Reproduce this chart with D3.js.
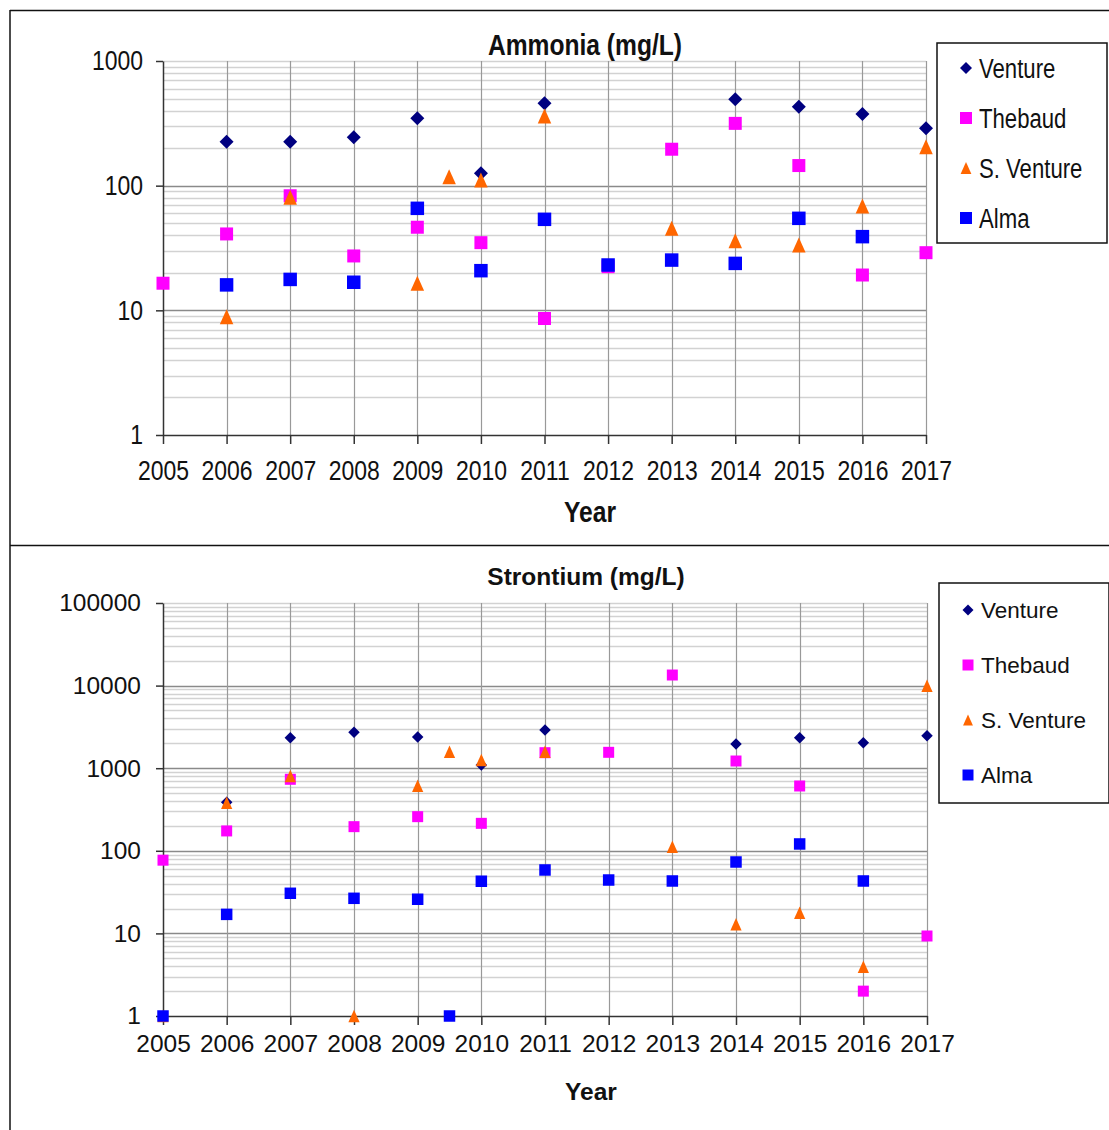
<!DOCTYPE html>
<html>
<head>
<meta charset="utf-8">
<script src="https://cdn.jsdelivr.net/npm/d3@7"></script>
<style>
  body { margin: 0; background: #fff; }
</style>
</head>
<body>
<div id="figure"></div>
<script>
const years = [2005, 2006, 2007, 2008, 2009, 2010, 2011, 2012, 2013, 2014, 2015, 2016, 2017];
const seriesNames = ["Venture", "Thebaud", "S. Venture", "Alma"];
const seriesColors = ["#000080", "#FF00FF", "#FF6600", "#0000FF"];
const seriesShapes = ["diamond", "square", "triangle", "square"];

// Ammonia (mg/L)  [year, value]
const ammoniaTicks = [1, 10, 100, 1000];
const ammoniaVenture = [[2006, 225], [2007, 225], [2008, 244], [2009, 347], [2010, 126], [2011, 458],
                        [2014, 493], [2015, 430], [2016, 376], [2017, 289]];
const ammoniaThebaud = [[2005, 16.5], [2006, 41], [2007, 83], [2008, 27.3], [2009, 46.4], [2010, 34.9],
                        [2011, 8.6], [2012, 22.4], [2013, 196], [2014, 316], [2015, 145], [2016, 19.2], [2017, 29]];
const ammoniaSVenture = [[2006, 8.9], [2007, 80.6], [2009, 16.5], [2009.5, 118], [2010, 111], [2011, 362],
                         [2013, 45.5], [2014, 36.2], [2015, 33.4], [2016, 68.7], [2017, 205]];
const ammoniaAlma = [[2006, 16], [2007, 17.7], [2008, 16.8], [2009, 65.8], [2010, 20.8], [2011, 53.7],
                     [2012, 23.1], [2013, 25.3], [2014, 23.8], [2015, 54.7], [2016, 39]];

// Strontium (mg/L)
const strontiumTicks = [1, 10, 100, 1000, 10000, 100000];
const strontiumVenture = [[2006, 387], [2007, 2340], [2008, 2720], [2009, 2390], [2010, 1093], [2011, 2900],
                          [2014, 1963], [2015, 2340], [2016, 2035], [2017, 2473]];
const strontiumThebaud = [[2005, 77], [2006, 174], [2007, 734], [2008, 196], [2009, 259], [2010, 215],
                          [2011, 1541], [2012, 1557], [2013, 13430], [2014, 1222], [2015, 609], [2016, 2], [2017, 9.3]];
const strontiumSVenture = [[2005, 1], [2006, 383], [2007, 805], [2008, 1], [2009, 614], [2009.5, 1585], [2010, 1257],
                           [2011, 1585], [2013, 112], [2014, 12.9], [2015, 17.8], [2016, 3.95], [2017, 9970]];
const strontiumAlma = [[2005, 1], [2006, 17], [2007, 30.6], [2008, 26.6], [2009, 25.9], [2009.5, 1], [2010, 42.8],
                       [2011, 58.6], [2012, 44.3], [2013, 43.1], [2014, 73.2], [2015, 121], [2016, 43.1]];

const W = 1109, H = 1130;
const font = '"Liberation Sans", Arial, sans-serif';

const svg = d3.select("#figure").append("svg")
  .attr("width", W)
  .attr("height", H);

// frame
svg.append("line").attr("x1", 10).attr("x2", W).attr("y1", 10.5).attr("y2", 10.5)
   .attr("stroke", "#111").attr("stroke-width", 1.5);
svg.append("line").attr("x1", 10).attr("x2", W).attr("y1", 545.5).attr("y2", 545.5)
   .attr("stroke", "#111").attr("stroke-width", 1.5);
svg.append("line").attr("x1", 10).attr("x2", 10).attr("y1", 10).attr("y2", H)
   .attr("stroke", "#111").attr("stroke-width", 1.5);

function markerPath(shape, s) {
  const h = s / 2;
  if (shape === "diamond") return `M0,${-h}L${h},0L0,${h}L${-h},0Z`;
  if (shape === "triangle") return `M0,${-h}L${h * 0.9},${h}L${-h * 0.9},${h}Z`;
  return `M${-h},${-h}H${h}V${h}H${-h}Z`;
}

function panel(opt) {
  const x = d3.scaleLinear().domain([2005, 2017]).range([163, opt.right]);
  const y = d3.scaleLog().domain([1, opt.max]).range([opt.bottom, opt.top]);
  const g = svg.append("g");

  // horizontal gridlines
  const minor = y.ticks().filter(v => !opt.ticks.includes(v) || v === opt.max);
  g.append("g").selectAll("line").data(minor).join("line")
    .attr("x1", x(2005)).attr("x2", x(2017))
    .attr("y1", d => Math.round(y(d)) + 0.5).attr("y2", d => Math.round(y(d)) + 0.5)
    .attr("stroke", "#d2d2d2").attr("stroke-width", 1.6);
  g.append("g").selectAll("line").data(opt.ticks.filter(v => v > 1 && v < opt.max)).join("line")
    .attr("x1", x(2005)).attr("x2", x(2017))
    .attr("y1", d => Math.round(y(d)) + 0.5).attr("y2", d => Math.round(y(d)) + 0.5)
    .attr("stroke", "#8a8a8a").attr("stroke-width", 1.3);

  // vertical gridlines
  g.append("g").selectAll("line").data(years.slice(1)).join("line")
    .attr("x1", d => Math.round(x(d)) + 0.5).attr("x2", d => Math.round(x(d)) + 0.5)
    .attr("y1", y(opt.max)).attr("y2", y(1))
    .attr("stroke", "#999").attr("stroke-width", 1.2);

  // axes
  const yAxis = g.append("g")
    .attr("transform", `translate(${x(2005)},0)`)
    .call(d3.axisLeft(y).tickValues(opt.ticks).tickFormat(d3.format("d"))
            .tickSize(7).tickSizeOuter(0).tickPadding(opt.yPad));
  const xAxis = g.append("g")
    .attr("transform", `translate(0,${y(1)})`)
    .call(d3.axisBottom(x).tickValues(years).tickFormat(d3.format("d"))
            .tickSize(9).tickSizeOuter(0).tickPadding(opt.xPad));
  [yAxis, xAxis].forEach(a => {
    a.attr("font-family", font).attr("font-size", opt.tickSize);
    a.selectAll("path, line").attr("stroke", "#333").attr("stroke-width", 1.5);
    a.selectAll("text").attr("fill", "#111");
  });

  // title and axis title
  g.append("text").attr("x", opt.titleX).attr("y", opt.titleY)
    .attr("text-anchor", "middle").attr("font-family", font).attr("font-weight", "bold")
    .attr("font-size", opt.titleSize).attr("fill", "#111").text(opt.title);
  g.append("text").attr("x", opt.yearX).attr("y", opt.yearY)
    .attr("text-anchor", "middle").attr("font-family", font).attr("font-weight", "bold")
    .attr("font-size", opt.titleSize).attr("fill", "#111").text("Year");

  // markers, drawn in series order
  opt.series.forEach((data, i) => {
    g.append("g").selectAll("path").data(data).join("path")
      .attr("transform", d => `translate(${x(d[0])},${y(d[1])})`)
      .attr("d", markerPath(seriesShapes[i], opt.markSize[i]))
      .attr("fill", seriesColors[i]);
  });

  // legend
  const lg = g.append("g");
  lg.append("rect").attr("x", opt.legend.x).attr("y", opt.legend.y)
    .attr("width", opt.legend.w).attr("height", opt.legend.h)
    .attr("fill", "#fff").attr("stroke", "#111").attr("stroke-width", 1.5);
  seriesNames.forEach((name, i) => {
    const cy = opt.legend.y + opt.legend.first + i * opt.legend.step;
    lg.append("path")
      .attr("transform", `translate(${opt.legend.x + opt.legend.mx},${cy})`)
      .attr("d", markerPath(seriesShapes[i], opt.legend.ms))
      .attr("fill", seriesColors[i]);
    lg.append("text")
      .attr("x", opt.legend.x + opt.legend.tx).attr("y", cy).attr("dy", "0.36em")
      .attr("font-family", font).attr("font-size", opt.legend.fs).attr("fill", "#111")
      .text(name);
  });

  // condensed lettering (the top chart uses a narrow face)
  if (opt.squeeze < 1) {
    g.selectAll("text").each(function() {
      const len = this.getComputedTextLength();
      d3.select(this).attr("textLength", len * opt.squeeze).attr("lengthAdjust", "spacingAndGlyphs");
    });
  }
}

panel({
  title: "Ammonia (mg/L)", max: 1000, ticks: ammoniaTicks,
  top: 61, bottom: 435, right: 926,
  tickSize: 28, titleSize: 30, yPad: 13, xPad: 16, squeeze: 0.82,
  titleX: 585, titleY: 55, yearX: 590, yearY: 522,
  series: [ammoniaVenture, ammoniaThebaud, ammoniaSVenture, ammoniaAlma],
  markSize: [14, 13, 15, 13.5],
  legend: { x: 937, y: 43, w: 170, h: 200, first: 25, step: 50, mx: 29, tx: 42, ms: 12, fs: 27 }
});

panel({
  title: "Strontium (mg/L)", max: 100000, ticks: strontiumTicks,
  top: 603, bottom: 1016, right: 927,
  tickSize: 24.5, titleSize: 24.5, yPad: 15, xPad: 10, squeeze: 1,
  titleX: 586, titleY: 585, yearX: 591, yearY: 1100,
  series: [strontiumVenture, strontiumThebaud, strontiumSVenture, strontiumAlma],
  markSize: [11.5, 11, 12.5, 11.5],
  legend: { x: 939, y: 583, w: 170, h: 220, first: 27, step: 55, mx: 29, tx: 42, ms: 11, fs: 22.5 }
});
</script>
</body>
</html>
